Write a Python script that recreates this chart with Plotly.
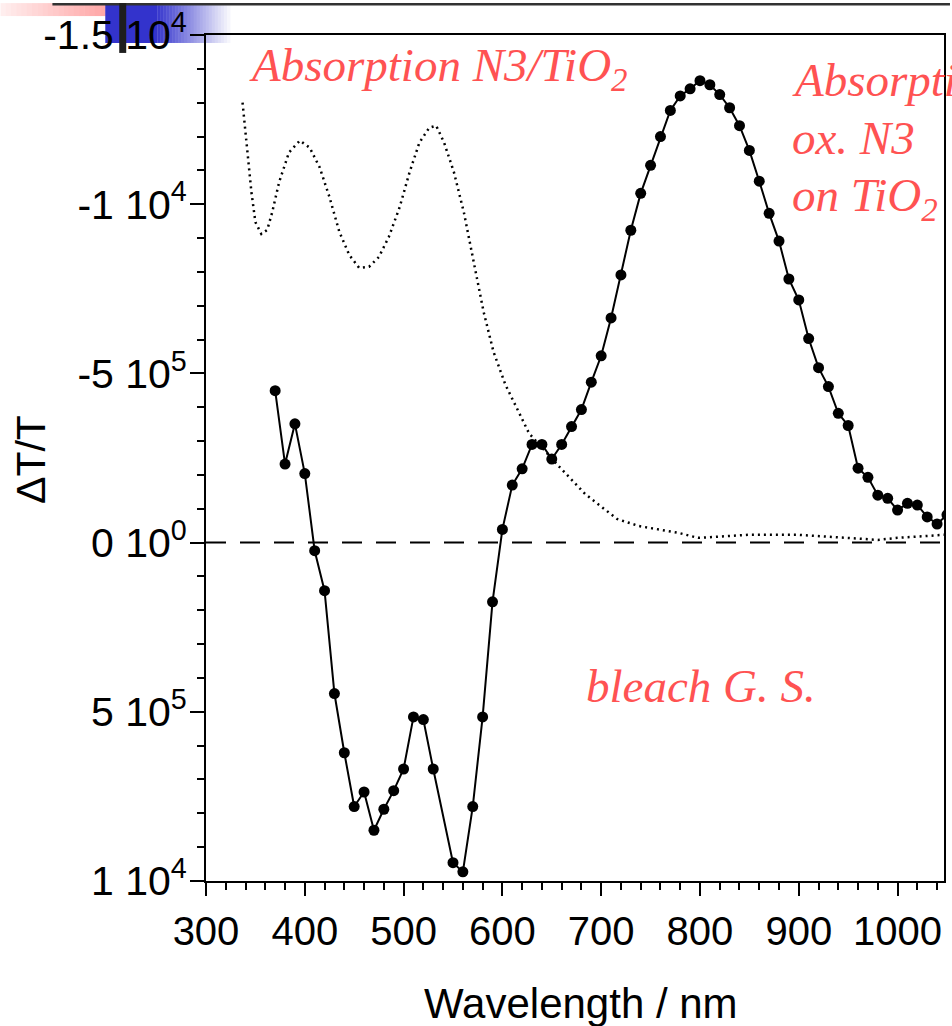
import plotly.graph_objects as go

# ---------------- data ----------------
SCALE = 1e-5  # values below are in units of 1e-5

wavelength_nm = [370, 380, 390, 400, 410, 420, 430, 440, 450, 460, 470, 480, 490, 500,
                 510, 520, 530, 550, 560, 570, 580, 590, 600, 610, 620, 630, 640, 650,
                 660, 670, 680, 690, 700, 710, 720, 730, 740, 750, 760, 770, 780, 790,
                 800, 810, 820, 830, 840, 850, 860, 870, 880, 890, 900, 910, 920, 930,
                 940, 950, 960, 970, 980, 990, 1000, 1010, 1020, 1030, 1040, 1050]
dT_T = [-4.49, -2.32, -3.51, -2.04, 0.24, 1.42, 4.46, 6.21, 7.80, 7.37, 8.50, 7.88, 7.33, 6.69,
        5.15, 5.23, 6.69, 9.46, 9.73, 7.80, 5.15, 1.75, -0.39, -1.70, -2.18, -2.90, -2.90, -2.47,
        -2.90, -3.43, -3.93, -4.74, -5.52, -6.64, -7.91, -9.23, -10.32, -11.15, -12.00, -12.77, -13.20, -13.41,
        -13.65, -13.53, -13.24, -12.85, -12.32, -11.59, -10.68, -9.73, -8.91, -7.79, -7.17, -6.03, -5.17, -4.61,
        -3.82, -3.46, -2.20, -1.93, -1.40, -1.31, -0.96, -1.16, -1.11, -0.76, -0.55, -0.82]

abs_nm = [337, 341, 346, 350, 356, 362, 367, 374, 384, 395, 405, 415, 425, 435, 445, 455,
          465, 475, 485, 496, 506, 516, 526, 533, 541, 551, 561, 571, 581, 591, 603, 627,
          657, 684, 716, 738, 778, 798, 819, 849, 900, 950, 980, 1000, 1047]
abs_scaled = [-13.0, -11.82, -10.35, -9.47, -9.12, -9.24, -9.76, -10.65, -11.53, -11.88, -11.67,
              -11.09, -10.21, -9.18, -8.50, -8.12, -8.15, -8.44, -9.03, -9.91, -10.94, -11.82,
              -12.26, -12.32, -11.82, -10.94, -9.76, -8.29, -6.82, -5.64, -4.67, -3.23, -2.26,
              -1.43, -0.70, -0.49, -0.29, -0.14, -0.17, -0.23, -0.23, -0.14, -0.08, -0.14, -0.23]

x_ticks = [300, 400, 500, 600, 700, 800, 900, 1000]
y_tickvals = [-1.5e-4, -1e-4, -5e-5, 0, 5e-5, 1e-4]
y_ticktext = ["-1.5 10<sup>4</sup>", "-1 10<sup>4</sup>", "-5 10<sup>5</sup>",
              "0 10<sup>0</sup>", "5 10<sup>5</sup>", "1 10<sup>4</sup>"]

# ---------------- geometry helpers ----------------
W, H = 952, 1026
ML, MR, MT, MB = 206, 6, 32, 145
PW, PH = W - ML - MR, H - MT - MB


def px(xp):
    return (xp - ML) / PW


def py(yp):
    return (H - MB - yp) / PH


RED = "#FF5252"
SERIF = "Liberation Serif"
SANS = "Liberation Sans"

fig = go.Figure()

fig.add_trace(go.Scatter(
    x=abs_nm, y=[v * SCALE for v in abs_scaled], mode="lines",
    line=dict(color="black", width=2.5, dash="2px,4px"), showlegend=False, hoverinfo="skip"))

fig.add_trace(go.Scatter(
    x=wavelength_nm, y=[v * SCALE for v in dT_T], mode="lines+markers",
    line=dict(color="black", width=2),
    marker=dict(color="black", size=11, line=dict(width=0)), showlegend=False))

shapes = []
# zero dashed line
shapes.append(dict(type="line", xref="paper", yref="y", x0=0, x1=1, y0=0, y1=0,
                   line=dict(color="black", width=2, dash="20px,14px"), layer="below"))


def rect(x0, x1, y0, y1, color, layer="below"):
    return dict(type="rect", xref="paper", yref="paper", x0=px(x0), x1=px(x1),
                y0=py(y1), y1=py(y0), fillcolor=color, line=dict(width=0), layer=layer)


# decorative slide elements (top left)
n = 20
for i in range(n):
    t = i / (n - 1)
    r, g, b = 255, int(238 - 70 * t), int(238 - 70 * t)
    shapes.append(rect(i * 105 / n, (i + 1) * 105 / n + 0.5, 0, 13, f"rgb({r},{g},{b})"))
shapes.append(rect(105, 157, 2, 40, "rgb(51,51,204)"))
m = 24
for i in range(m):
    t = (i + 1) / (m + 1)
    r = int(51 + (255 - 51) * t)
    g = int(51 + (255 - 51) * t)
    b = int(204 + (255 - 204) * t)
    x0 = 157 + i * (230 - 157) / m
    shapes.append(rect(x0, x0 + (230 - 157) / m + 0.5, 2, 40, f"rgb({r},{g},{b})"))
shapes.append(rect(52, 952, 0, 2.5, "rgb(50,50,50)"))
shapes.append(rect(119, 126, 0, 50, "rgb(30,30,30)", layer="above"))

annotations = []


def text(xp, ytop, s, size=47, color=RED, family=SERIF, **kw):
    annotations.append(dict(x=px(xp), y=py(ytop), xref="paper", yref="paper", text=s,
                            showarrow=False, xanchor=kw.get("xanchor", "left"),
                            yanchor=kw.get("yanchor", "top"), textangle=kw.get("textangle", 0),
                            font=dict(family=family, size=size, color=color)))


text(247, 34, "<i>Absorption N3/TiO<sub>2</sub></i>")
text(792, 49, "<i>Absorption</i>")
text(792, 107, "<i>ox. N3</i>")
text(792, 164, "<i>on TiO<sub>2</sub></i>")
text(585, 657, "<i>bleach G. S.</i>")
text(582, 978, "Wavelength / nm", size=42, color="black", family=SANS, xanchor="center")
text(31, 458, "ΔT/T", size=41, color="black", family=SANS, xanchor="center",
     yanchor="middle", textangle=-90)

fig.update_layout(
    width=W, height=H,
    margin=dict(l=ML, r=MR, t=MT, b=MB, pad=0),
    paper_bgcolor="white", plot_bgcolor="white",
    shapes=shapes, annotations=annotations,
    showlegend=False,
    xaxis=dict(range=[300, 1047], tickmode="array", tickvals=x_ticks,
               ticks="outside", ticklen=13, tickwidth=2, tickcolor="black",
               ticklabelstandoff=1,
               showline=True, linecolor="black", linewidth=2, mirror=True,
               showgrid=False, zeroline=False,
               tickfont=dict(family=SANS, size=40, color="black"),
               minor=dict(tickmode="linear", tick0=300, dtick=20, ticks="outside",
                          ticklen=7, tickwidth=2, tickcolor="black", showgrid=False)),
    yaxis=dict(range=[1e-4, -1.5e-4], tickmode="array", tickvals=y_tickvals,
               ticktext=y_ticktext,
               ticks="outside", ticklen=14, tickwidth=2, tickcolor="black",
               ticklabelstandoff=-5,
               showline=True, linecolor="black", linewidth=2, mirror=True,
               showgrid=False, zeroline=False,
               tickfont=dict(family=SANS, size=41, color="black"),
               minor=dict(tickmode="linear", tick0=0, dtick=1e-5, ticks="outside",
                          ticklen=7, tickwidth=2, tickcolor="black", showgrid=False)),
)

fig.write_html("out.html", config={"displayModeBar": False},
               post_script="document.body.style.margin='0';document.body.style.overflow='hidden';")
